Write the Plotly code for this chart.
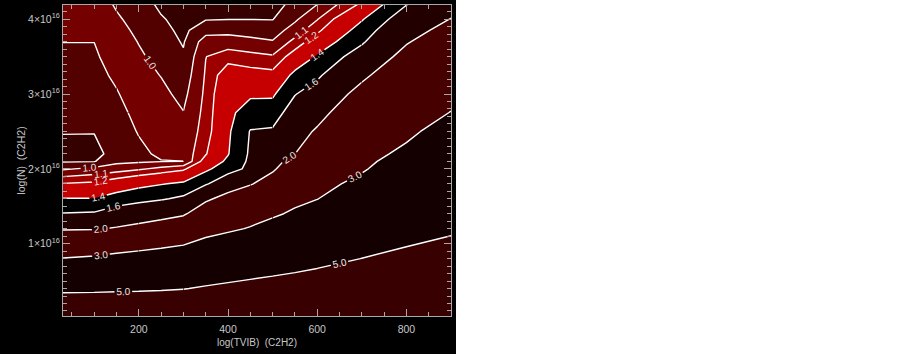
import numpy as np
import plotly.graph_objects as go

# T_vib grid (x) and column density grid (y, in units of 1e16)
tvib = [30, 100, 150, 200, 250, 300, 350, 400, 450, 500, 550, 600, 700, 800, 900]
log_n = [0.03, 0.4, 0.8, 1.2, 1.4, 1.6, 1.8, 2.0, 2.1, 2.2, 2.5, 2.75, 3.0,
         3.25, 3.5, 3.7, 3.85, 4.0, 4.2]

# ratio values, one list per T_vib column (bottom -> top)
r_030 = [6.5, 4.73, 3.02, 1.955, 1.61, 1.407, 1.207, 0.985, 0.89, 0.82, 0.912, 0.928, 0.944, 0.965, 0.985, 1.001, 1.016, 1.03, 1.05]
r_100 = [6.5, 4.76, 3.10, 1.97, 1.624, 1.407, 1.223, 1.026, 0.895, 0.85, 0.906, 0.925, 0.945, 0.965, 0.985, 1.001, 1.016, 1.03, 1.05]
r_150 = [6.5, 4.80, 3.21, 2.033, 1.72, 1.485, 1.281, 1.052, 0.975, 0.965, 0.946, 0.963, 0.991, 1.02, 1.048, 1.048, 1.03, 1.013, 0.989]
r_200 = [6.5, 4.84, 3.31, 2.117, 1.779, 1.536, 1.346, 1.084, 0.985, 0.975, 1.007, 1.034, 1.06, 1.037, 1.015, 0.996, 0.981, 0.965, 0.945]
r_250 = [6.5, 4.89, 3.41, 2.231, 1.844, 1.578, 1.389, 1.129, 0.995, 1.02, 1.045, 1.05, 1.024, 0.997, 0.968, 0.944, 0.926, 0.909, 0.88]
r_300 = [6.5, 4.96, 3.51, 2.382, 1.942, 1.642, 1.43, 1.177, 0.999, 1.03, 1.029, 1.003, 0.973, 0.942, 0.912, 0.892, 0.879, 0.867, 0.85]
r_350 = [6.5, 5.12, 3.77, 2.68, 2.30, 1.924, 1.576, 1.36, 1.26, 1.19, 1.14, 1.13, 1.12, 1.11, 1.098, 1.05, 0.96, 0.895, 0.87]
r_400 = [6.5, 5.25, 3.99, 2.86, 2.507, 2.155, 1.774, 1.514, 1.438, 1.39, 1.37, 1.35, 1.33, 1.28, 1.15, 1.046, 0.972, 0.898, 0.87]
r_450 = [6.5, 5.36, 4.19, 3.054, 2.678, 2.322, 1.97, 1.65, 1.64, 1.63, 1.61, 1.497, 1.368, 1.252, 1.13, 1.026, 0.96, 0.899, 0.87]
r_500 = [6.5, 5.45, 4.37, 3.33, 2.872, 2.532, 2.192, 1.945, 1.881, 1.818, 1.627, 1.498, 1.372, 1.238, 1.111, 1.007, 0.951, 0.897, 0.86]
r_550 = [6.5, 5.53, 4.536, 3.598, 3.129, 2.804, 2.534, 2.264, 2.128, 1.997, 1.845, 1.718, 1.59, 1.449, 1.262, 1.13, 1.047, 0.983, 0.93]
r_600 = [6.5, 5.62, 4.697, 3.831, 3.398, 2.983, 2.775, 2.566, 2.462, 2.358, 2.045, 1.87, 1.713, 1.56, 1.42, 1.274, 1.173, 1.095, 0.998]
r_700 = [6.5, 5.78, 5.01, 4.282, 3.918, 3.555, 3.191, 2.924, 2.845, 2.765, 2.526, 2.327, 2.127, 1.926, 1.72, 1.567, 1.478, 1.384, 1.22]
r_800 = [6.5, 5.897, 5.245, 4.63, 4.333, 4.037, 3.741, 3.444, 3.296, 3.148, 2.853, 2.669, 2.485, 2.301, 2.118, 1.97, 1.857, 1.743, 1.59]
r_900 = [6.5, 5.978, 5.414, 4.873, 4.634, 4.394, 4.155, 3.916, 3.797, 3.677, 3.317, 3.018, 2.812, 2.611, 2.411, 2.251, 2.131, 2.01, 1.88]

levels = [0.9, 1.0, 1.1, 1.2, 1.4, 1.6, 2.0, 3.0, 5.0]
base_color = "#340000"
band_colors = ["#520000", "#740000", "#9e0000", "#c60000", "#000000",
               "#230000", "#460000", "#140000", "#380000"]

# pieces of each contour level (T_vib from/to, N from/to, labelled?) - the
# labelled pieces carry one value label each, as in the original figure
line_pieces = {
    0.9: [(30, 900, 0.03, 4.2, False)],
    1.0: [(30, 200, 0.03, 2.2, True), (30, 150, 2.2, 4.2, False),
          (150, 200, 2.2, 2.75, False), (200, 300, 0.03, 2.75, False),
          (150, 300, 2.75, 4.2, True), (300, 900, 0.03, 4.2, False)],
    1.1: [(30, 200, 0.03, 4.2, True), (200, 500, 0.03, 4.2, False),
          (500, 700, 0.03, 4.2, True), (700, 900, 0.03, 4.2, False)],
    1.2: [(30, 200, 0.03, 4.2, True), (200, 500, 0.03, 4.2, False),
          (500, 700, 0.03, 4.2, True), (700, 900, 0.03, 4.2, False)],
    1.4: [(30, 200, 0.03, 4.2, True), (200, 500, 0.03, 4.2, False),
          (500, 700, 0.03, 4.2, True), (700, 900, 0.03, 4.2, False)],
    1.6: [(30, 250, 0.03, 4.2, True), (250, 500, 0.03, 4.2, False),
          (500, 700, 0.03, 4.2, True), (700, 900, 0.03, 4.2, False)],
    2.0: [(30, 200, 0.03, 4.2, True), (200, 450, 0.03, 4.2, False),
          (450, 700, 0.03, 4.2, True), (700, 900, 0.03, 4.2, False)],
    3.0: [(30, 200, 0.03, 4.2, True), (200, 500, 0.03, 4.2, False),
          (500, 900, 0.03, 4.2, True)],
    5.0: [(30, 300, 0.03, 4.2, True), (300, 400, 0.03, 4.2, False),
          (400, 900, 0.03, 4.2, True)],
}

x_ticks = [200, 400, 600, 800]
y_ticks = [1e16, 2e16, 3e16, 4e16]
y_ticktext = ["1×10<sup>16</sup>", "2×10<sup>16</sup>", "3×10<sup>16</sup>", "4×10<sup>16</sup>"]

cols = [r_030, r_100, r_150, r_200, r_250, r_300, r_350, r_400, r_450,
        r_500, r_550, r_600, r_700, r_800, r_900]
z = np.array(cols).T
y_vals = np.array(log_n) * 1e16

fig = go.Figure()

common = dict(x=tvib, y=y_vals, z=z, showscale=False, hoverinfo="skip")

# plotly shades the region that violates the constraint, so "<" shades z > value
fig.add_trace(go.Contour(**common,
                         contours=dict(type="constraint", operation="<", value=0.0),
                         fillcolor=base_color, line=dict(width=0, smoothing=0)))
for lev, col in zip(levels, band_colors):
    fig.add_trace(go.Contour(**common,
                             contours=dict(type="constraint", operation="<", value=lev),
                             fillcolor=col, line=dict(width=0, smoothing=0)))

label_font = dict(family="Liberation Sans", size=10, color="#e6e6e6")

for lev in levels:
    for x0, x1, y0, y1, lab in line_pieces[lev]:
        i0, i1 = tvib.index(x0), tvib.index(x1) + 1
        j0, j1 = log_n.index(y0), log_n.index(y1) + 1
        fig.add_trace(go.Contour(
            x=tvib[i0:i1], y=y_vals[j0:j1], z=z[j0:j1, i0:i1],
            showscale=False, hoverinfo="skip",
            contours=dict(type="levels", start=lev, end=lev, size=0.05,
                          coloring="none", showlabels=lab,
                          labelformat=".1f", labelfont=label_font),
            line=dict(color="white", width=1.4, smoothing=0)))

W, H = 903, 357
L_PX, R_PX, T_PX, B_PX = 63, 451, 5, 316
pw, ph = R_PX - L_PX, B_PX - T_PX

fig.add_shape(type="rect", xref="paper", yref="paper", layer="below",
              x0=-L_PX / pw, x1=(456 - L_PX) / pw,
              y0=(B_PX - 354) / ph, y1=1 + T_PX / ph,
              fillcolor="black", line=dict(width=0))

axis_col = "#a8a8a8"
txt_col = "#c8c8c8"
fig.update_layout(
    width=W, height=H,
    margin=dict(l=L_PX, r=W - R_PX, t=T_PX, b=H - B_PX, autoexpand=False),
    paper_bgcolor="white", plot_bgcolor="black",
    font=dict(family="Liberation Sans", size=10, color=txt_col),
    showlegend=False,
    xaxis=dict(range=[30, 900], tickvals=x_ticks, ticks="inside", ticklen=7,
               tickcolor=axis_col, showline=True, linecolor=axis_col, linewidth=1,
               mirror="ticks", showgrid=False, zeroline=False, automargin=False,
               minor=dict(dtick=50, ticks="inside", ticklen=4, tickcolor=axis_col),
               tickfont=dict(size=10.5, color=txt_col), ticklabelstandoff=3,
               title=dict(text="log(TVIB)  (C2H2)", font=dict(size=10, color=txt_col),
                          standoff=5)),
    yaxis=dict(range=[0.033e16, 4.19e16], tickvals=y_ticks, ticktext=y_ticktext,
               ticks="inside", ticklen=7, tickcolor=axis_col, showline=True,
               linecolor=axis_col, linewidth=1, mirror="ticks", showgrid=False,
               zeroline=False, automargin=False,
               minor=dict(dtick=0.1e16, ticks="inside", ticklen=4, tickcolor=axis_col),
               tickfont=dict(size=10.5, color=txt_col),
               title=dict(text="log(N)  (C2H2)", font=dict(size=10.5, color=txt_col),
                          standoff=0)),
)

fig.write_html("out.html", config={"displayModeBar": False},
               post_script="document.body.style.margin='0px';")
